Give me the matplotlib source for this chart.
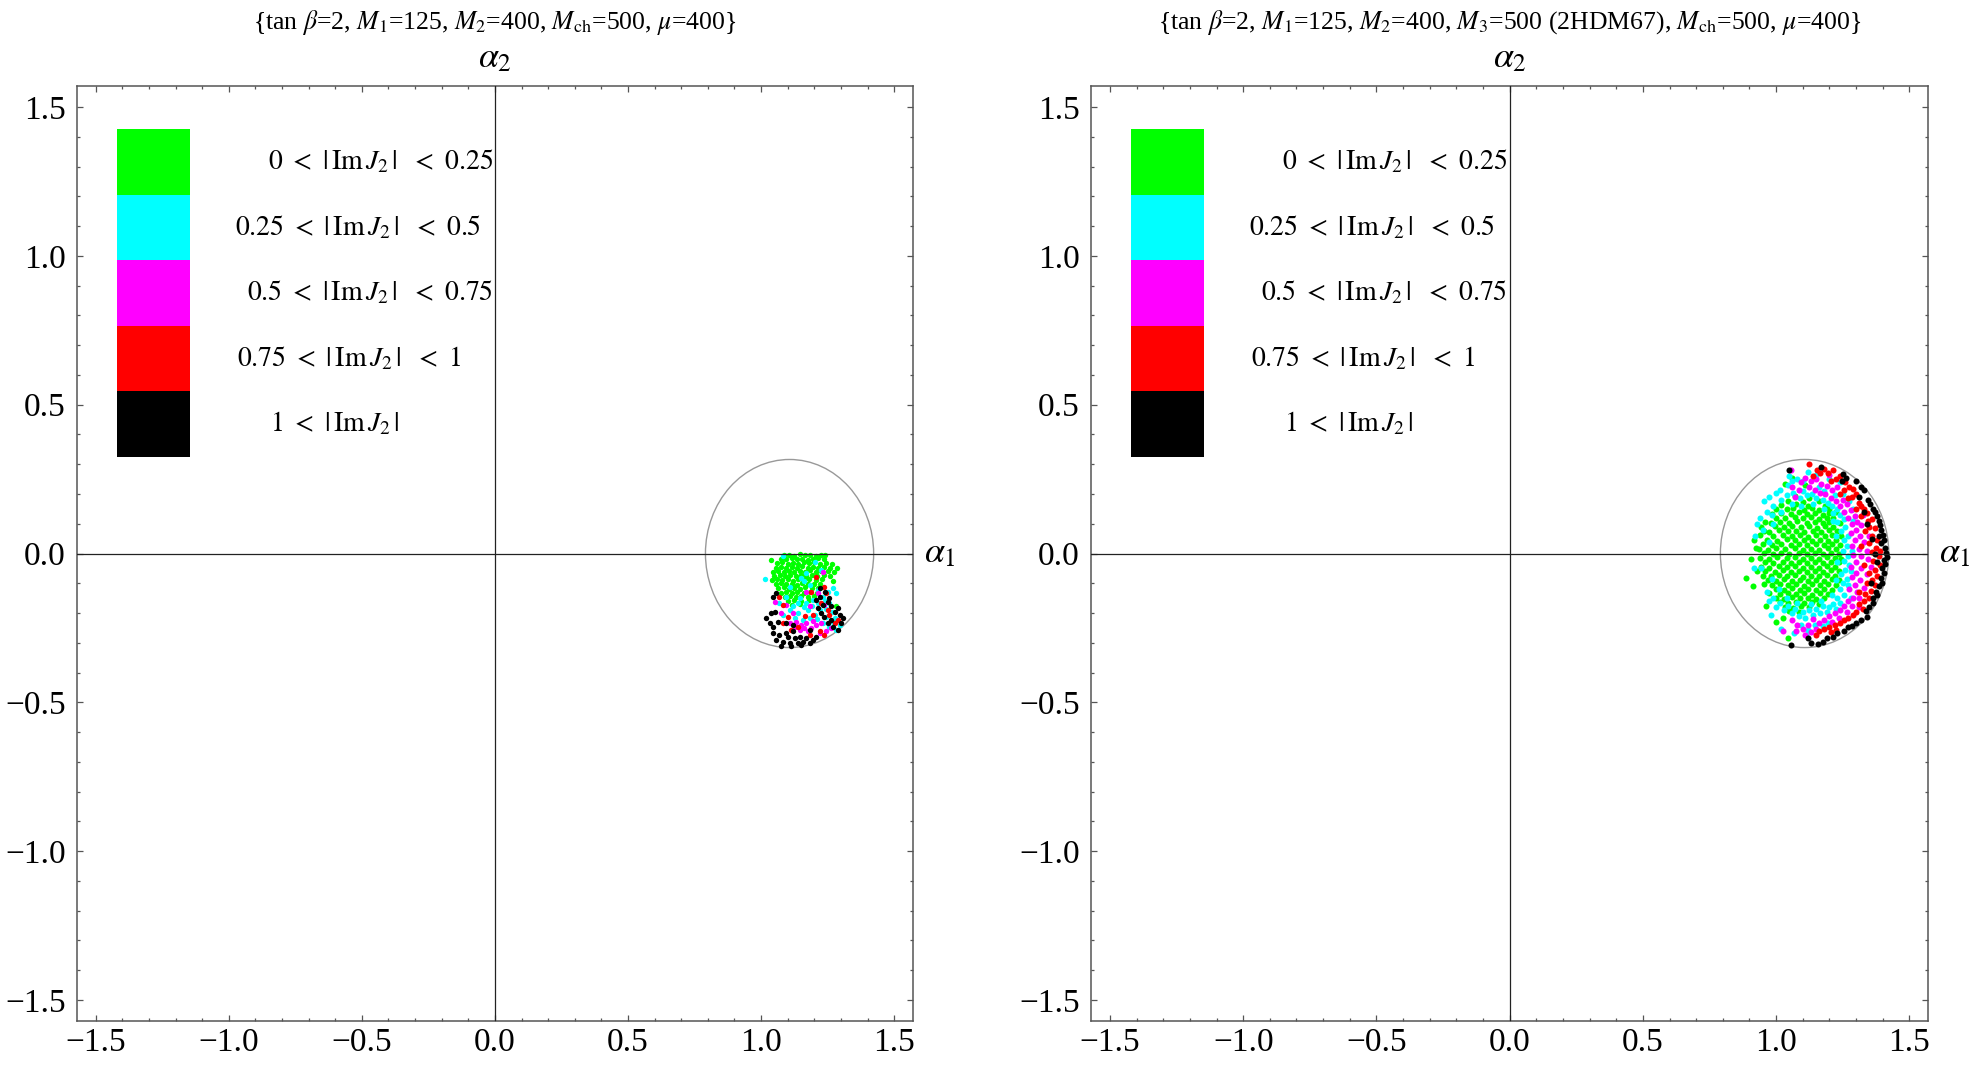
import matplotlib
matplotlib.use("Agg")
import matplotlib.pyplot as plt
from matplotlib.patches import Circle, Rectangle
from matplotlib.ticker import MultipleLocator

plt.rcParams['font.family'] = ['Liberation Serif', 'DejaVu Serif']
plt.rcParams['mathtext.fontset'] = 'stix'

# ---------------- data ----------------
tick_values = [-1.5, -1.0, -0.5, 0.0, 0.5, 1.0, 1.5]
tick_labels = ['\u22121.5', '\u22121.0', '\u22120.5', '0.0', '0.5', '1.0', '1.5']
axis_limit = 1.5708

titles = [
    r'{tan $\beta$=2, $M_1$=125, $M_2$=400, $M_{\rm ch}$=500, $\mu$=400}',
    r'{tan $\beta$=2, $M_1$=125, $M_2$=400, $M_3$=500 (2HDM67), $M_{\rm ch}$=500, $\mu$=400}',
]
legend_labels = [
    r'$0\ <\ |\,\mathrm{Im}\,J_2\,|\ \ <\ 0.25$',
    r'$0.25\ <\ |\,\mathrm{Im}\,J_2\,|\ \ <\ 0.5$',
    r'$0.5\ <\ |\,\mathrm{Im}\,J_2\,|\ \ <\ 0.75$',
    r'$0.75\ <\ |\,\mathrm{Im}\,J_2\,|\ \ <\ 1$',
    r'$1\ <\ |\,\mathrm{Im}\,J_2\,|$',
]
class_colors = ['#00ff00', '#00ffff', '#ff00ff', '#ff0000', '#000000']

circle_center = (1.107, 0.0)
circle_radius = 0.316

# ---- left panel points ----
lp_green = [
    (1.085,-0.006),(1.105,-0.004),(1.125,-0.007),(1.145,-0.003),(1.165,-0.006),(1.185,-0.004),(1.205,-0.007),(1.225,-0.005),(1.240,-0.004),
    (1.036,-0.022),(1.075,-0.018),(1.095,-0.020),(1.115,-0.016),(1.135,-0.019),(1.155,-0.017),(1.175,-0.021),(1.195,-0.018),(1.215,-0.016),(1.235,-0.020),
    (1.060,-0.033),(1.080,-0.030),(1.100,-0.034),(1.120,-0.031),(1.140,-0.035),(1.160,-0.030),(1.180,-0.033),(1.200,-0.029),(1.220,-0.034),(1.245,-0.031),(1.265,-0.036),
    (1.055,-0.047),(1.075,-0.044),(1.095,-0.048),(1.115,-0.045),(1.135,-0.049),(1.155,-0.043),(1.175,-0.047),(1.195,-0.045),(1.215,-0.049),(1.235,-0.044),(1.260,-0.048),(1.285,-0.050),
    (1.045,-0.061),(1.065,-0.058),(1.085,-0.062),(1.105,-0.059),(1.125,-0.063),(1.145,-0.058),(1.165,-0.061),(1.185,-0.057),(1.205,-0.062),(1.225,-0.060),(1.250,-0.058),(1.275,-0.063),
    (1.050,-0.075),(1.070,-0.072),(1.090,-0.076),(1.110,-0.073),(1.130,-0.077),(1.150,-0.071),(1.170,-0.075),(1.190,-0.073),(1.210,-0.076),(1.235,-0.072),(1.260,-0.075),
    (1.040,-0.089),(1.060,-0.086),(1.080,-0.090),(1.100,-0.087),(1.120,-0.091),(1.140,-0.085),(1.160,-0.089),(1.180,-0.087),(1.205,-0.090),(1.230,-0.086),(1.270,-0.092),
    (1.055,-0.103),(1.075,-0.100),(1.095,-0.104),(1.115,-0.101),(1.135,-0.105),(1.155,-0.099),(1.175,-0.103),(1.200,-0.101),(1.220,-0.104),
    (1.065,-0.117),(1.085,-0.114),(1.105,-0.118),(1.125,-0.115),(1.145,-0.119),(1.165,-0.113),(1.190,-0.117),(1.215,-0.115),
    (1.075,-0.131),(1.095,-0.128),(1.115,-0.132),(1.135,-0.129),(1.160,-0.133),(1.185,-0.128),(1.210,-0.131),
    (1.090,-0.145),(1.110,-0.142),(1.130,-0.146),(1.150,-0.143),(1.175,-0.147),(1.200,-0.142),
    (1.100,-0.159),(1.125,-0.156),(1.150,-0.160),(1.180,-0.157),
    (1.115,-0.173),(1.145,-0.170),(1.282,-0.178),
]
lp_cyan = [
    (1.013,-0.087),(1.082,-0.010),(1.151,-0.081),(1.170,-0.066),(1.201,-0.027),(1.226,-0.055),
    (1.107,-0.111),(1.163,-0.094),(1.182,-0.105),(1.213,-0.122),(1.251,-0.128),(1.270,-0.117),
    (1.282,-0.134),(1.094,-0.145),(1.145,-0.150),(1.170,-0.167),(1.195,-0.156),(1.232,-0.145),
    (1.257,-0.167),(1.069,-0.167),(1.120,-0.178),(1.138,-0.201),(1.176,-0.190),(1.201,-0.206),
    (1.220,-0.190),(1.245,-0.212),(1.276,-0.218),(1.295,-0.240),(1.282,-0.257),(1.257,-0.246),
    (1.232,-0.234),(1.157,-0.223),(1.126,-0.218),(1.082,-0.206),(1.107,-0.190),(1.160,-0.180),
    (1.190,-0.175),(1.215,-0.165),(1.245,-0.185),(1.265,-0.195),(1.210,-0.220),(1.185,-0.215),
    (1.140,-0.165),(1.240,-0.160),(1.270,-0.230),
]
lp_magenta = [
    (1.051,-0.162),(1.170,-0.128),(1.182,-0.178),(1.213,-0.133),(1.232,-0.061),(1.076,-0.201),
    (1.120,-0.201),(1.107,-0.234),(1.132,-0.229),(1.151,-0.240),(1.170,-0.234),(1.188,-0.251),
    (1.207,-0.240),(1.226,-0.234),(1.245,-0.262),(1.220,-0.268),(1.176,-0.262),(1.145,-0.257),
    (1.126,-0.246),(1.263,-0.251),(1.238,-0.173),(1.094,-0.173),(1.160,-0.250),(1.195,-0.228),
]
lp_red = [
    (1.205,-0.078),(1.188,-0.128),(1.238,-0.111),(1.082,-0.173),(1.069,-0.145),(1.226,-0.167),
    (1.245,-0.134),(1.101,-0.212),(1.195,-0.206),(1.138,-0.246),(1.182,-0.274),(1.220,-0.262),
    (1.238,-0.274),(1.276,-0.234),(1.288,-0.223),(1.251,-0.190),(1.113,-0.257),(1.257,-0.206),
    (1.082,-0.234),(1.165,-0.210),
]
lp_black = [
    (1.019,-0.217),(1.038,-0.201),(1.051,-0.195),(1.032,-0.234),(1.044,-0.246),(1.063,-0.229),
    (1.044,-0.268),(1.069,-0.274),(1.057,-0.290),(1.082,-0.296),(1.076,-0.310),(1.101,-0.279),
    (1.107,-0.302),(1.094,-0.268),(1.120,-0.262),(1.126,-0.285),(1.138,-0.302),(1.145,-0.279),
    (1.157,-0.296),(1.170,-0.285),(1.182,-0.302),(1.195,-0.290),(1.207,-0.279),(1.113,-0.312),
    (1.151,-0.308),(1.044,-0.145),(1.057,-0.134),(1.094,-0.234),(1.120,-0.240),
    (1.207,-0.156),(1.220,-0.145),(1.232,-0.173),(1.226,-0.201),(1.251,-0.162),(1.263,-0.178),
    (1.276,-0.195),(1.288,-0.184),(1.295,-0.206),(1.307,-0.218),(1.301,-0.234),(1.288,-0.257),
    (1.238,-0.212),(1.263,-0.223),(1.251,-0.234),(1.270,-0.246),(1.213,-0.184),(1.242,-0.128),
    (1.220,-0.117),(1.257,-0.150),(1.182,-0.257),
]

# ---- right panel points ----
rp_green = [
    (1.070,0.192),(1.125,0.188),
    (1.045,0.176),(1.100,0.173),(1.160,0.178),
    (1.020,0.163),(1.075,0.166),(1.120,0.161),(1.185,0.159),
    (1.000,0.150),(1.040,0.148),(1.065,0.153),(1.105,0.147),(1.135,0.152),(1.160,0.146),(1.200,0.149),
    (0.985,0.134),(1.020,0.137),(1.055,0.132),(1.085,0.138),(1.115,0.133),(1.145,0.136),(1.175,0.131),(1.200,0.135),(1.225,0.138),
    (1.000,0.121),(1.035,0.118),(1.070,0.123),(1.100,0.119),(1.130,0.122),(1.160,0.117),(1.190,0.121),(1.215,0.118),
    (0.960,0.106),(0.980,0.102),(1.015,0.107),(1.050,0.103),(1.080,0.108),(1.115,0.104),(1.145,0.106),(1.175,0.101),(1.200,0.105),(1.240,0.103),
    (0.995,0.091),(1.030,0.088),(1.060,0.093),(1.095,0.089),(1.125,0.092),(1.155,0.087),(1.185,0.091),(1.215,0.089),
    (0.955,0.076),(0.975,0.073),(1.010,0.078),(1.045,0.074),(1.075,0.077),(1.105,0.072),(1.140,0.076),(1.170,0.073),(1.200,0.078),(1.230,0.074),
    (0.940,0.061),(0.990,0.058),(1.025,0.063),(1.060,0.059),(1.090,0.062),(1.120,0.057),(1.150,0.061),(1.185,0.058),(1.210,0.063),(1.245,0.060),
    (0.965,0.046),(1.005,0.043),(1.040,0.048),(1.070,0.044),(1.105,0.047),(1.135,0.042),(1.165,0.046),(1.195,0.043),(1.225,0.047),
    (0.950,0.031),(0.985,0.028),(1.020,0.033),(1.055,0.029),(1.085,0.032),(1.115,0.027),(1.150,0.031),(1.180,0.028),(1.210,0.033),(1.240,0.030),
    (0.935,0.016),(0.970,0.013),(1.000,0.018),(1.035,0.014),(1.070,0.017),(1.100,0.012),(1.130,0.016),(1.160,0.013),(1.195,0.018),(1.225,0.015),
    (0.955,0.001),(0.990,-0.002),(1.020,0.003),(1.050,-0.001),(1.085,0.002),(1.115,-0.003),(1.145,0.001),(1.175,-0.002),(1.205,0.003),(1.235,0.000),
    (0.940,-0.014),(0.975,-0.017),(1.005,-0.012),(1.040,-0.016),(1.070,-0.013),(1.100,-0.018),(1.130,-0.014),(1.160,-0.017),(1.190,-0.012),(1.220,-0.015),(1.245,-0.018),
    (0.960,-0.029),(0.990,-0.032),(1.025,-0.027),(1.055,-0.031),(1.085,-0.028),(1.115,-0.033),(1.145,-0.029),(1.175,-0.032),(1.205,-0.027),(1.235,-0.030),
    (0.945,-0.044),(0.975,-0.047),(1.010,-0.042),(1.040,-0.046),(1.070,-0.043),(1.100,-0.048),(1.130,-0.044),(1.160,-0.047),(1.190,-0.042),(1.220,-0.045),
    (0.960,-0.059),(0.995,-0.062),(1.025,-0.057),(1.055,-0.061),(1.085,-0.058),(1.115,-0.063),(1.145,-0.059),(1.175,-0.062),(1.205,-0.057),(1.235,-0.060),
    (0.950,-0.074),(0.980,-0.077),(1.010,-0.072),(1.040,-0.076),(1.070,-0.073),(1.100,-0.078),(1.130,-0.074),(1.160,-0.077),(1.190,-0.072),(1.220,-0.075),
    (0.970,-0.089),(1.000,-0.092),(1.030,-0.087),(1.060,-0.091),(1.090,-0.088),(1.120,-0.093),(1.150,-0.089),(1.180,-0.092),(1.210,-0.087),(1.235,-0.090),
    (0.955,-0.104),(0.985,-0.107),(1.015,-0.102),(1.045,-0.106),(1.075,-0.103),(1.105,-0.108),(1.135,-0.104),(1.165,-0.107),(1.195,-0.102),(1.225,-0.105),
    (1.000,-0.119),(1.030,-0.122),(1.060,-0.117),(1.090,-0.121),(1.120,-0.118),(1.150,-0.123),(1.180,-0.119),(1.210,-0.122),
    (0.975,-0.134),(1.015,-0.137),(1.045,-0.132),(1.075,-0.136),(1.105,-0.133),(1.135,-0.138),(1.165,-0.134),(1.195,-0.137),
    (1.000,-0.149),(1.030,-0.152),(1.060,-0.147),(1.090,-0.151),(1.120,-0.148),(1.150,-0.153),(1.180,-0.149),
    (1.015,-0.164),(1.045,-0.167),(1.075,-0.162),(1.105,-0.166),(1.135,-0.163),(1.160,-0.168),
    (1.035,-0.179),(1.065,-0.182),(1.095,-0.177),(1.125,-0.181),
    (1.050,-0.194),(1.085,-0.197),
    (0.888,-0.083),(0.919,0.046),(0.905,-0.020),(0.915,-0.110),(0.925,0.020),(0.962,-0.175),
    (1.025,-0.217),(1.043,-0.285),(1.000,-0.230),(1.035,0.235),(1.060,0.255),(1.110,0.230),
    (0.930,-0.060),(0.945,0.090),
]
rp_cyan = [
    (0.955,0.175),(0.975,0.190),(0.990,0.160),(0.965,0.140),(0.985,0.130),(1.000,0.205),
    (1.020,0.180),(1.015,0.215),(1.040,0.195),(1.045,0.230),(1.065,0.205),(1.080,0.250),
    (1.090,0.185),(1.100,0.210),(1.115,0.195),(1.120,0.275),(1.135,0.200),(1.150,0.185),
    (1.160,0.225),(1.175,0.180),(1.195,0.170),(1.180,0.210),(1.210,0.160),(1.220,0.195),
    (1.230,0.150),(1.215,0.135),(1.240,0.130),(1.255,0.115),(1.230,0.105),(1.260,0.090),
    (1.245,0.075),(1.270,0.060),(1.255,0.045),(1.265,0.025),(1.250,0.010),(1.270,-0.010),
    (1.255,-0.025),(1.275,-0.040),(1.260,-0.055),(1.245,-0.070),(1.265,-0.085),(1.250,-0.100),
    (1.270,-0.105),(1.240,-0.120),(1.255,-0.140),(1.230,-0.150),(1.240,-0.165),(1.215,-0.170),
    (1.225,-0.185),(1.200,-0.180),(1.190,-0.195),(1.175,-0.175),(1.165,-0.200),(1.150,-0.185),
    (1.140,-0.205),(1.125,-0.190),(1.110,-0.215),(1.100,-0.195),(1.085,-0.210),(1.070,-0.185),
    (1.060,-0.200),(1.045,-0.175),(1.030,-0.190),(1.015,-0.165),(1.000,-0.180),(0.990,-0.150),
    (0.975,-0.160),(0.965,-0.130),(0.981,-0.206),(1.069,-0.268),(1.020,-0.253),(1.113,-0.274),
    (1.120,-0.258),(1.095,-0.240),(1.145,-0.240),(1.175,-0.245),(1.195,-0.235),(0.919,-0.047),
    (0.945,-0.050),(0.920,0.060),(0.930,0.100),(0.950,0.080),(0.940,0.120),(1.060,0.245),
    (1.200,0.250),(1.290,0.110),(1.280,-0.060),(1.285,0.010),(1.095,0.160),(1.140,0.165),
    (1.180,0.150),(1.215,0.110),(1.225,0.060),(1.230,-0.030),(1.225,-0.090),(1.210,-0.140),
    (1.170,-0.160),(1.130,-0.170),(1.080,-0.165),(1.040,-0.150),(1.010,-0.120),(0.985,-0.085),
    (0.975,0.040),(0.990,0.100),(1.020,0.140),(1.060,0.165),(1.250,0.200),(1.280,-0.150),
    (1.290,0.150),(1.275,0.175),(1.240,0.240),(1.150,0.265),(1.100,0.245),(1.050,0.260),
]
rp_magenta = [
    (1.056,0.281),(1.060,0.222),(1.095,0.240),(1.085,0.215),(1.070,0.190),(1.110,0.255),
    (1.130,0.245),(1.150,0.250),(1.125,0.225),(1.145,0.215),(1.170,0.235),(1.190,0.228),
    (1.165,0.205),(1.185,0.200),(1.210,0.215),(1.230,0.225),(1.205,0.185),(1.225,0.175),
    (1.250,0.180),(1.240,0.160),(1.265,0.165),(1.255,0.140),(1.280,0.145),(1.270,0.120),
    (1.295,0.125),(1.285,0.100),(1.305,0.105),(1.320,0.095),(1.300,0.080),(1.280,0.070),
    (1.315,0.060),(1.295,0.045),(1.330,0.040),(1.285,0.025),(1.310,0.015),(1.340,0.010),
    (1.290,-0.005),(1.320,-0.010),(1.345,-0.020),(1.300,-0.030),(1.280,-0.045),(1.320,-0.050),
    (1.300,-0.065),(1.340,-0.070),(1.285,-0.080),(1.315,-0.090),(1.295,-0.105),(1.330,-0.115),
    (1.275,-0.120),(1.305,-0.130),(1.290,-0.150),(1.270,-0.160),(1.310,-0.150),(1.255,-0.175),
    (1.285,-0.175),(1.240,-0.190),(1.265,-0.195),(1.220,-0.200),(1.200,-0.210),(1.235,-0.215),
    (1.180,-0.225),(1.210,-0.230),(1.160,-0.232),(1.140,-0.220),(1.120,-0.240),(1.150,-0.252),
    (1.100,-0.255),(1.080,-0.240),(1.060,-0.225),(1.075,-0.262),(1.110,-0.275),(1.025,-0.262),
    (1.350,0.060),(1.355,-0.045),(1.325,0.130),(1.310,-0.180),(1.130,-0.265),(1.200,0.265),
]
rp_red = [
    (1.122,0.300),(1.180,0.285),(1.215,0.280),(1.195,0.272),(1.240,0.262),(1.225,0.250),
    (1.205,0.242),(1.260,0.240),(1.275,0.225),(1.290,0.218),(1.255,0.215),(1.240,0.200),
    (1.300,0.200),(1.310,0.170),(1.285,0.190),(1.320,0.160),(1.330,0.150),(1.300,0.150),
    (1.340,0.135),(1.318,0.125),(1.345,0.110),(1.360,0.115),(1.350,0.090),(1.370,0.085),
    (1.335,0.075),(1.360,0.060),(1.380,0.045),(1.350,0.035),(1.375,0.020),(1.390,0.010),
    (1.360,0.005),(1.385,-0.010),(1.365,-0.025),(1.390,-0.040),(1.370,-0.055),(1.350,-0.065),
    (1.378,-0.075),(1.360,-0.090),(1.340,-0.100),(1.370,-0.105),(1.355,-0.125),(1.335,-0.135),
    (1.350,-0.150),(1.330,-0.160),(1.310,-0.170),(1.325,-0.185),(1.300,-0.195),(1.290,-0.208),
    (1.270,-0.215),(1.255,-0.225),(1.240,-0.232),(1.220,-0.240),(1.200,-0.248),(1.225,-0.258),
    (1.205,-0.265),(1.180,-0.255),(1.160,-0.262),(1.150,-0.275),(1.140,0.262),(1.165,0.270),
    (1.155,0.282),(1.270,0.185),(1.320,0.025),(1.330,-0.040),(1.310,-0.130),
]
rp_black = [
    (1.050,0.281),(1.170,0.292),(1.250,0.268),(1.262,0.255),(1.248,0.245),(1.300,0.245),
    (1.320,0.222),(1.330,0.215),(1.312,0.190),(1.344,0.180),(1.352,0.165),(1.362,0.150),
    (1.370,0.138),(1.378,0.125),(1.386,0.110),(1.390,0.095),(1.395,0.080),(1.402,0.062),
    (1.405,0.045),(1.395,0.035),(1.410,0.020),(1.412,0.002),(1.415,-0.012),(1.405,-0.021),
    (1.410,-0.035),(1.398,-0.050),(1.404,-0.065),(1.392,-0.082),(1.396,-0.098),(1.385,-0.110),
    (1.375,-0.128),(1.380,-0.140),(1.365,-0.148),(1.362,-0.165),(1.350,-0.180),(1.337,-0.192),
    (1.340,-0.212),(1.318,-0.222),(1.300,-0.232),(1.285,-0.245),(1.269,-0.246),(1.255,-0.262),
    (1.230,-0.268),(1.215,-0.280),(1.190,-0.285),(1.175,-0.298),(1.156,-0.305),(1.120,-0.285),
    (1.056,-0.309),(1.130,-0.300),(1.360,0.050),(1.385,0.060),(1.380,-0.030),(1.370,0.000),
    (1.355,-0.100),(1.330,0.140),(1.340,0.100),
]

panels = [
    [lp_green, lp_cyan, lp_magenta, lp_red, lp_black],
    [rp_green, rp_cyan, rp_magenta, rp_red, rp_black],
]

# ---------------- figure ----------------
fig = plt.figure(figsize=(19.77, 10.66), dpi=100)
axes_rects = [
    [0.0389, 0.0422, 0.4229, 0.8771],
    [0.5519, 0.0422, 0.4234, 0.8771],
]
marker_sizes = [15, 19]
frame_color = '#555555'

for rect, title, series, msize in zip(axes_rects, titles, panels, marker_sizes):
    ax = fig.add_axes(rect)
    ax.set_xlim(-axis_limit, axis_limit)
    ax.set_ylim(-axis_limit, axis_limit)
    for sp in ax.spines.values():
        sp.set_color(frame_color)
        sp.set_linewidth(1.1)
    ax.set_xticks(tick_values)
    ax.set_xticklabels(tick_labels)
    ax.set_yticks(tick_values)
    ax.set_yticklabels(tick_labels)
    ax.xaxis.set_minor_locator(MultipleLocator(0.1))
    ax.yaxis.set_minor_locator(MultipleLocator(0.1))
    ax.tick_params(which='both', direction='in', top=True, right=True,
                   color=frame_color, width=0.9)
    ax.tick_params(which='major', length=4.5, labelsize=24)
    ax.tick_params(which='minor', length=2.5)
    ax.tick_params(axis='x', which='major', pad=5)
    ax.tick_params(axis='y', which='major', pad=8)

    ax.axhline(0, color='#222222', lw=0.9, zorder=4)
    ax.axvline(0, color='#222222', lw=0.9, zorder=4)

    ax.add_patch(Circle(circle_center, circle_radius, fill=False,
                        edgecolor='#999999', lw=1.0, zorder=1.5))

    for pts, col in zip(series, class_colors):
        xs = [p[0] for p in pts]
        ys = [p[1] for p in pts]
        ax.scatter(xs, ys, s=msize, c=col, linewidths=0, zorder=3)

    # legend swatches and labels
    box_left, box_w, box_top, box_h = 0.0475, 0.0875, 0.954, 0.0701
    label_x = [0.228, 0.189, 0.203, 0.191, 0.231]
    for i, (col, lab) in enumerate(zip(class_colors, legend_labels)):
        ax.add_patch(Rectangle((box_left, box_top - (i + 1) * box_h), box_w, box_h,
                               transform=ax.transAxes, facecolor=col,
                               edgecolor='none', zorder=5))
        ax.text(label_x[i], box_top - (i + 0.5) * box_h, lab, transform=ax.transAxes,
                ha='left', va='center', fontsize=20, zorder=5)

    ax.text(1.032, 0.0, r'$\alpha_1$', transform=ax.get_yaxis_transform(),
            ha='center', va='center', fontsize=26)
    ax.text(0.0, 1.029, r'$\alpha_2$', transform=ax.get_xaxis_transform(),
            ha='center', va='center', fontsize=26)
    ax.text(0.0, 1.068, title, transform=ax.get_xaxis_transform(),
            ha='center', va='center', fontsize=18.5)

fig.savefig('out.png', dpi=100)
